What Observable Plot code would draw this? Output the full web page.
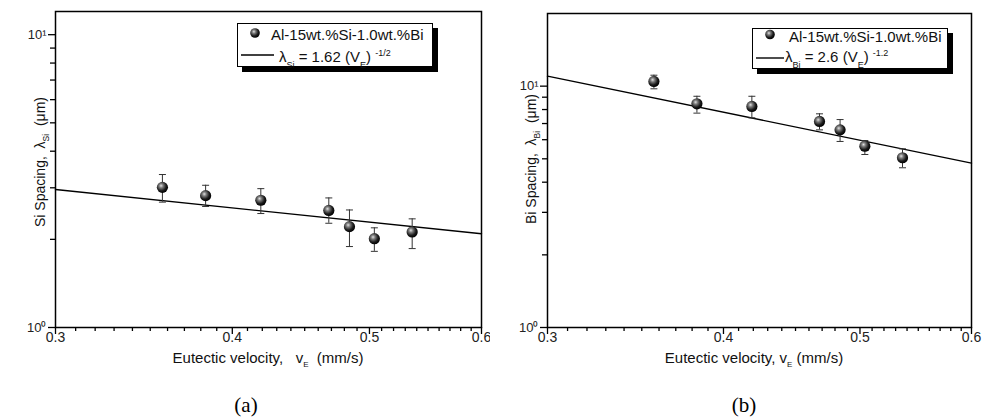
<!DOCTYPE html>
<html><head><meta charset="utf-8">
<script src="https://cdn.jsdelivr.net/npm/d3@7"></script>
<script src="https://cdn.jsdelivr.net/npm/@observablehq/plot@0.6"></script>
<style>
body{margin:0;background:#fff;}
#wrap{position:relative;width:983px;height:419px;overflow:hidden;font-family:"Liberation Sans",Arial,sans-serif;background:#fff;}
#wrap svg.plot{position:absolute;top:0;}
.legend{position:absolute;box-sizing:border-box;border:1px solid #000;background:#fff;box-shadow:5px 5px 0 #000;}
.lt{position:absolute;font-size:15px;line-height:1;white-space:pre;color:#111;}
.sub{font-size:9px;position:relative;top:6px;}
.sup{font-size:9px;position:relative;top:-6px;}
.cap{position:absolute;font-family:"Liberation Serif","Times New Roman",serif;font-size:21px;line-height:1;transform:translateX(-50%);}
</style></head><body>
<svg width="0" height="0" style="position:absolute"><defs>
<radialGradient id="sphere" cx="40%" cy="38%" r="62%" fx="38%" fy="35%">
<stop offset="0%" stop-color="#e0e0e0"/><stop offset="30%" stop-color="#7a7a7a"/><stop offset="70%" stop-color="#1c1c1c"/><stop offset="100%" stop-color="#000"/>
</radialGradient></defs></svg>
<div id="wrap"></div>
<script>
// ---- data ----
const velocity = [0.357, 0.383, 0.419, 0.468, 0.484, 0.504, 0.536];
const siSpacing = [3.01, 2.82, 2.72, 2.51, 2.21, 2.01, 2.12];
const siLow = [2.68, 2.59, 2.45, 2.27, 1.89, 1.82, 1.86];
const siHigh = [3.33, 3.06, 2.98, 2.77, 2.52, 2.19, 2.35];
const biSpacing = [10.46, 8.45, 8.24, 7.14, 6.59, 5.64, 5.05];
const biLow = [9.75, 7.73, 7.39, 6.59, 5.90, 5.21, 4.59];
const biHigh = [11.1, 9.08, 9.08, 7.68, 7.27, 5.95, 5.50];
const fitVelocity = [0.3, 0.6];
const siFit = [2.96, 2.09];
const biFit = [11.0, 4.80];
const xTicks = [0.3, 0.4, 0.5, 0.6];
const xTickLabels = ["0.3", "0.4", "0.5", "0.6"];
const xMinorTicks = [0.31,0.32,0.33,0.34,0.35,0.36,0.37,0.38,0.39,0.41,0.42,0.43,0.44,0.45,0.46,0.47,0.48,0.49,0.51,0.52,0.53,0.54,0.55,0.56,0.57,0.58,0.59];
const yTicks = [1, 10];
const yTickLabels = ["10\u2070", "10\u00B9"];
const yMinorTicks = [2, 3, 4, 5, 6, 7, 8, 9];
const seriesName = "Al-15wt.%Si-1.0wt.%Bi";

const wrap = document.getElementById("wrap");
const capSymbol = {draw(ctx) { ctx.moveTo(-3.5, 0); ctx.lineTo(3.5, 0); }};
const noText = () => "";

function panel(cfg) {
  const data = velocity.map((v, i) => ({v, y: cfg.spacing[i], lo: cfg.low[i], hi: cfg.high[i]}));
  const fitData = fitVelocity.map((v, i) => ({v, y: cfg.fit[i]}));
  const xLab = xTicks.map((v, i) => ({v, t: xTickLabels[i]}));
  const yLab = yTicks.map((v, i) => ({v, t: yTickLabels[i]}));
  const plot = Plot.plot({
    width: cfg.width, height: 375,
    marginLeft: cfg.ml, marginRight: cfg.mr, marginTop: cfg.mt, marginBottom: 48,
    style: {fontFamily: "'Liberation Sans', Arial, sans-serif", background: "transparent", color: "#000"},
    x: {type: "log", domain: [0.3, 0.6]},
    y: {type: "log", domain: cfg.yDomain},
    marks: [
      Plot.axisX(xMinorTicks, {tickSize: 4, tickFormat: noText, label: null, strokeWidth: 1.3}),
      Plot.axisX(xTicks, {tickSize: 7, tickFormat: noText, label: null, strokeWidth: 1.3}),
      Plot.axisY(yMinorTicks, {tickSize: 5, tickFormat: noText, label: null, strokeWidth: 1.3}),
      Plot.axisY(yTicks, {tickSize: 7, tickFormat: noText, label: null, strokeWidth: 1.3}),
      Plot.text(xLab, {x: "v", text: "t", frameAnchor: "bottom", dy: 14, fontSize: 14, fill: "#222"}),
      Plot.text(yLab, {y: "v", text: "t", frameAnchor: "left", dx: -9, textAnchor: "end", fontSize: 13, fill: "#222"}),
      Plot.line(fitData, {x: "v", y: "y", stroke: "#000", strokeWidth: 1.4}),
      Plot.ruleX(data, {x: "v", y1: "lo", y2: "hi", stroke: "#333", strokeWidth: 1}),
      Plot.dot(data, {x: "v", y: "lo", symbol: capSymbol, stroke: "#333", strokeWidth: 1}),
      Plot.dot(data, {x: "v", y: "hi", symbol: capSymbol, stroke: "#333", strokeWidth: 1}),
      Plot.dot(data, {x: "v", y: "y", r: 5.6, fill: "url(#sphere)", stroke: "none"}),
      Plot.frame({stroke: "#000", strokeWidth: 1.5})
    ]
  });
  plot.classList.add("plot");
  plot.style.left = cfg.left + "px";
  const svg = d3.select(plot);
  // x label
  const xl = svg.append("text").attr("x", cfg.xlx).attr("y", 363).attr("text-anchor", "middle")
    .attr("font-size", 15).attr("fill", "#111").style("white-space", "pre");
  xl.append("tspan").text(cfg.xLabelA);
  xl.append("tspan").attr("font-size", 8).attr("dy", 4).text("E");
  xl.append("tspan").attr("dy", -4).text(cfg.xLabelB);
  // y label
  const yl = svg.append("text").attr("transform", `translate(${cfg.ylx},${cfg.yly}) rotate(-90)`)
    .attr("text-anchor", "middle").attr("font-size", 14).attr("fill", "#111").style("white-space", "pre");
  yl.append("tspan").text(cfg.yLabelA + "\u03BB");
  yl.append("tspan").attr("font-size", 8.5).attr("dy", 4).text(cfg.yLabelSub);
  yl.append("tspan").attr("dy", -4).text("  (\u03BCm)");
  wrap.appendChild(plot);
}

panel({left: 0, width: 490, ml: 55, mr: 9, mt: 11, yDomain: [1, 12],
  spacing: siSpacing, low: siLow, high: siHigh, fit: siFit,
  xlx: 268, xLabelA: "Eutectic velocity,   v", xLabelB: "  (mm/s)",
  ylx: 45, yly: 162, yLabelA: "Si Spacing,  ", yLabelSub: "Si"});
panel({left: 490, width: 493, ml: 57, mr: 12, mt: 13, yDomain: [1, 20],
  spacing: biSpacing, low: biLow, high: biHigh, fit: biFit,
  xlx: 264, xLabelA: "Eutectic velocity, v", xLabelB: " (mm/s)",
  ylx: 46, yly: 159, yLabelA: "Bi Spacing,  ", yLabelSub: "Bi"});

function legend(L) {
  const box = document.createElement("div");
  box.className = "legend";
  Object.assign(box.style, {left: L.left + "px", top: L.top + "px", width: L.w + "px", height: L.h + "px"});
  box.innerHTML =
    `<svg style="position:absolute;left:0;top:0" width="${L.w}" height="${L.h}">
       <circle cx="${L.sx}" cy="${L.sy}" r="4.8" fill="url(#sphere)"/>
       <line x1="${L.lx1}" x2="${L.lx2}" y1="${L.ly}" y2="${L.ly}" stroke="#000" stroke-width="1.4"/>
     </svg>
     <span class="lt" style="left:${L.t1x}px;top:${L.t1y}px">${seriesName}</span>
     <span class="lt" style="left:${L.t2x}px;top:${L.t2y}px">\u03BB<span class="sub">${L.sub}</span>${L.eq}(V<span class="sub">E</span>) <span class="sup">${L.exp}</span></span>`;
  wrap.appendChild(box);
}
legend({left: 237, top: 23, w: 196, h: 44, sx: 17, sy: 9, lx1: 3, lx2: 36, ly: 31,
  t1x: 33, t1y: 3, t2x: 41, t2y: 25, sub: "Si", eq: " = 1.62 ", exp: "-1/2"});
legend({left: 752, top: 28, w: 196, h: 41, sx: 17, sy: 5.5, lx1: 3, lx2: 31, ly: 29,
  t1x: 36, t1y: 0, t2x: 32, t2y: 20, sub: "Bi", eq: " = 2.6 ", exp: "-1.2"});

// captions
for (const [txt, x] of [["(a)", 246], ["(b)", 744]]) {
  const c = document.createElement("div");
  c.className = "cap"; c.textContent = txt;
  c.style.left = x + "px"; c.style.top = "395px";
  wrap.appendChild(c);
}
</script></body></html>
